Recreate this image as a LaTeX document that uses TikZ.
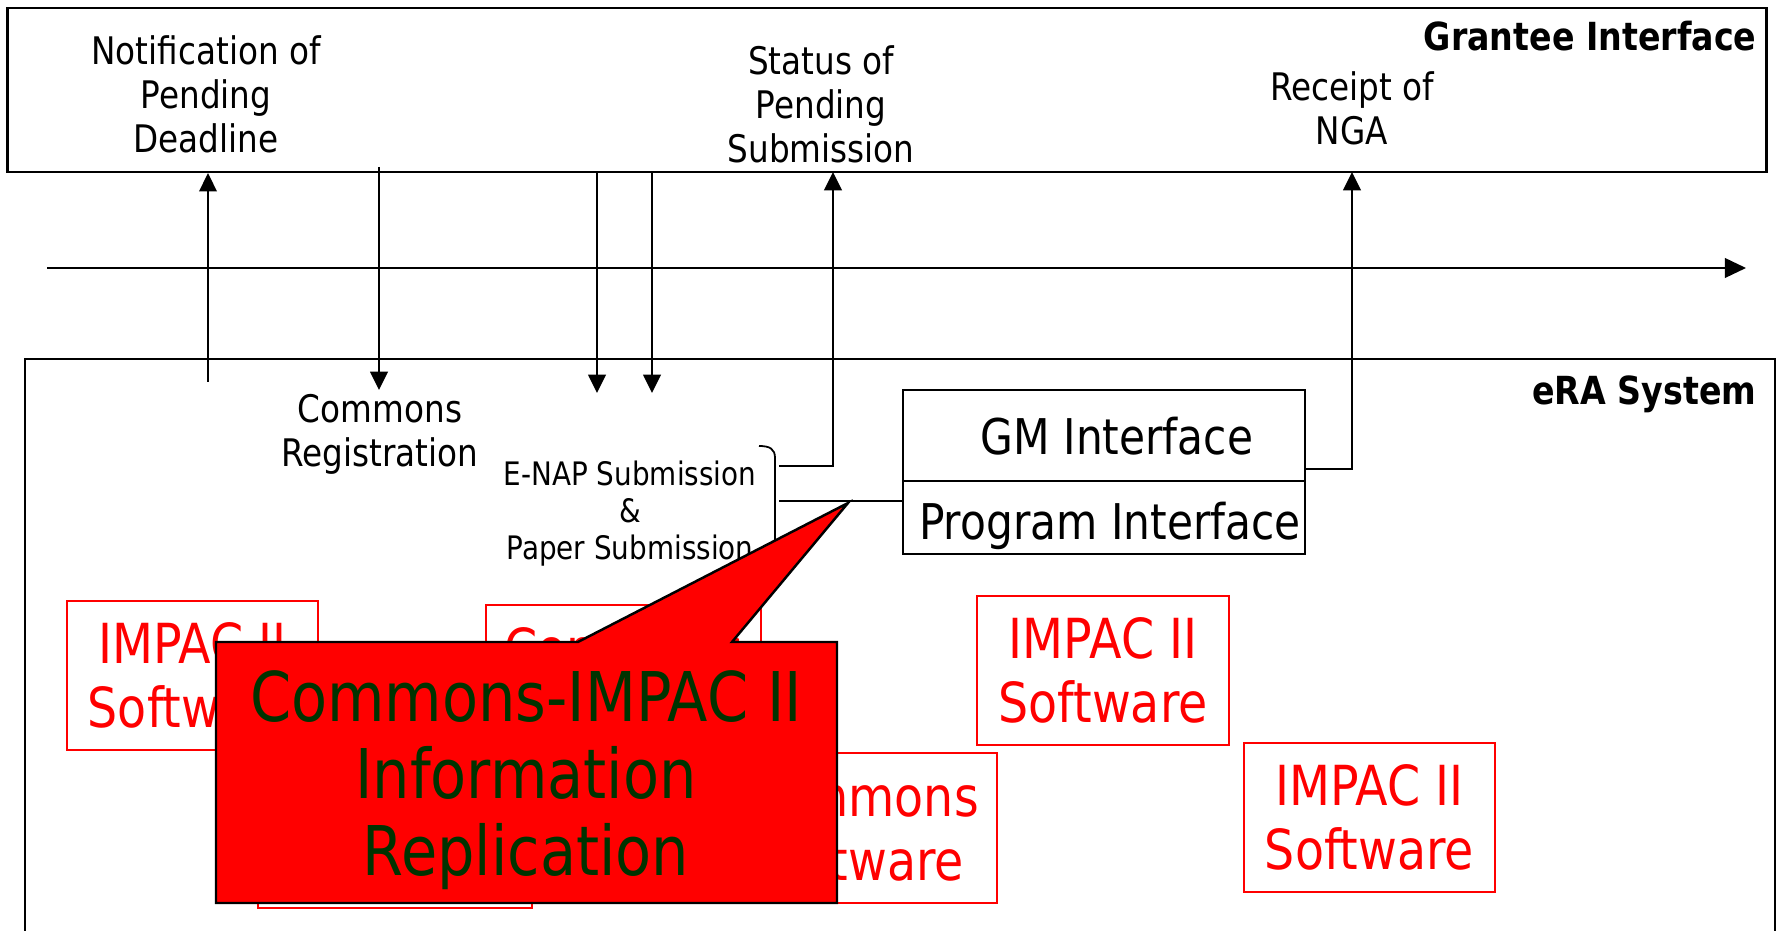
\documentclass[tikz,border=0pt]{standalone}
\usepackage{fontspec}
\setmainfont{DejaVu Sans}[FakeStretch=0.86]
\usetikzlibrary{arrows.meta}
\usetikzlibrary{positioning}
\definecolor{callred}{RGB}{255,0,0}
\definecolor{callgreen}{RGB}{0,51,0}

\begin{document}
\begin{tikzpicture}[x=0.01cm,y=-0.01cm,
  lbl/.style={inner sep=0pt,align=center,font=\fontsize{10.8}{12.5}\selectfont},
  flow/.style={line width=0.5pt,-{Triangle[length=5.2pt,width=5pt]}},
  wire/.style={line width=0.5pt},
  swbox/.style={draw=red,text=red,line width=0.55pt,align=center,minimum height=1.49cm,inner sep=0pt,font=\fontsize{15.7}{18.2}\selectfont},
  ifbox/.style={draw,line width=0.6pt,minimum width=4.02cm,inner sep=0pt}]
\fill[white] (0,0) rectangle (1781,931);
\useasboundingbox (0,0) rectangle (1781,931);

% grantee side
\node[draw,line width=0.6pt,minimum width=17.58cm,minimum height=1.64cm,inner sep=0pt] (grantee) at (887,90) {};
\node[font=\fontsize{11}{13}\selectfont\bfseries,anchor=north east,inner sep=0pt] (granteetitle) at (1757,20) {Grantee Interface};
\node[lbl,anchor=north] (notif) at (206,35) {Notification of\\Pending\\Deadline};
\node[lbl,anchor=north] (status) at (821,45) {Status of\\Pending\\Submission};
\node[lbl,anchor=north] (receipt) at (1352,71) {Receipt of\\NGA};

% time line
\coordinate (t0) at (47,268);
\coordinate (t1) at (1746,268);
\draw[line width=0.5pt,-{Triangle[length=6pt,width=5.6pt]}] (t0) -- (t1);

% eRA side
\draw[line width=0.6pt] (25,931) -- (25,359) -- (1775,359) -- (1775,931);
\node[font=\fontsize{11}{13}\selectfont\bfseries,anchor=north east,inner sep=0pt] (eratitle) at (1757,375) {eRA System};
\node[lbl,anchor=north] (reg) at (380,394) {Commons\\Registration};
\node[lbl,anchor=north,font=\fontsize{9.2}{10.5}\selectfont] (enap) at (630,460) {E-NAP Submission\\\&\\Paper Submission};
\node[ifbox,minimum height=0.91cm] (gm) at (1104,435.5) {};
\node[ifbox,minimum height=0.73cm] (prog) at (1104,517.5) {};
\node[font=\fontsize{14}{16}\selectfont,anchor=base,inner sep=0pt] (gmtext) at (1117,455) {GM Interface};
\node[font=\fontsize{14}{16}\selectfont,anchor=base,inner sep=0pt] (progtext) at (1110,540) {Program Interface};

% brace at the submissions
\draw[wire] (759,446) .. controls (770,446) and (775,449) .. (775,458) -- (775,580);
\coordinate (bk1) at (779,466);
\coordinate (bk2) at (779,501);
\coordinate (gmout) at (1305,469);

% arrows
\coordinate (u1) at (208,382);
\coordinate (d1s) at (379,167);
\coordinate (d1e) at (379,390);
\coordinate (d2e) at (597,393);
\coordinate (d3e) at (652,393);
\draw[flow] (u1) -- (u1 |- grantee.south);
\draw[flow] (d1s) -- (d1e);
\draw[flow] (d2e |- grantee.south) -- (d2e);
\draw[flow] (d3e |- grantee.south) -- (d3e);
\draw[flow] (bk1) -- (833,466) -- (833,172);
\draw[flow] (gmout) -- (1352,469) -- (1352,172);
\draw[wire] (bk2) -- (bk2 -| prog.west);

% software boxes
\node[swbox,minimum width=2.51cm] (sw1) at (192.5,675.5) {IMPAC II\\Software};
\node[swbox,minimum width=2.75cm,minimum height=1.50cm] (cm1) at (623.5,680) {Commons\\Software};
\node[swbox,minimum width=2.74cm,minimum height=1.50cm] (cm2) at (395,833) {};
\node[swbox,minimum width=2.52cm] (sw2) at (1103,670.5) {IMPAC II\\Software};
\node[swbox,minimum width=2.75cm,minimum height=1.50cm] (cm3) at (859.5,828) {Commons\\Software};
\node[swbox,minimum width=2.51cm] (sw3) at (1369.5,817.5) {IMPAC II\\Software};

% callout
\filldraw[fill=callred,draw=black,line width=0.7pt] (216,642) -- (578,642) -- (848,503) -- (732,642) -- (837,642) -- (837,903) -- (216,903) -- cycle;
\node[font=\fontsize{19.5}{21.9}\selectfont,text=callgreen,align=center,anchor=north,inner sep=0pt] (callout) at (526,670) {Commons-IMPAC II\\Information\\Replication};

\end{tikzpicture}
\end{document}
